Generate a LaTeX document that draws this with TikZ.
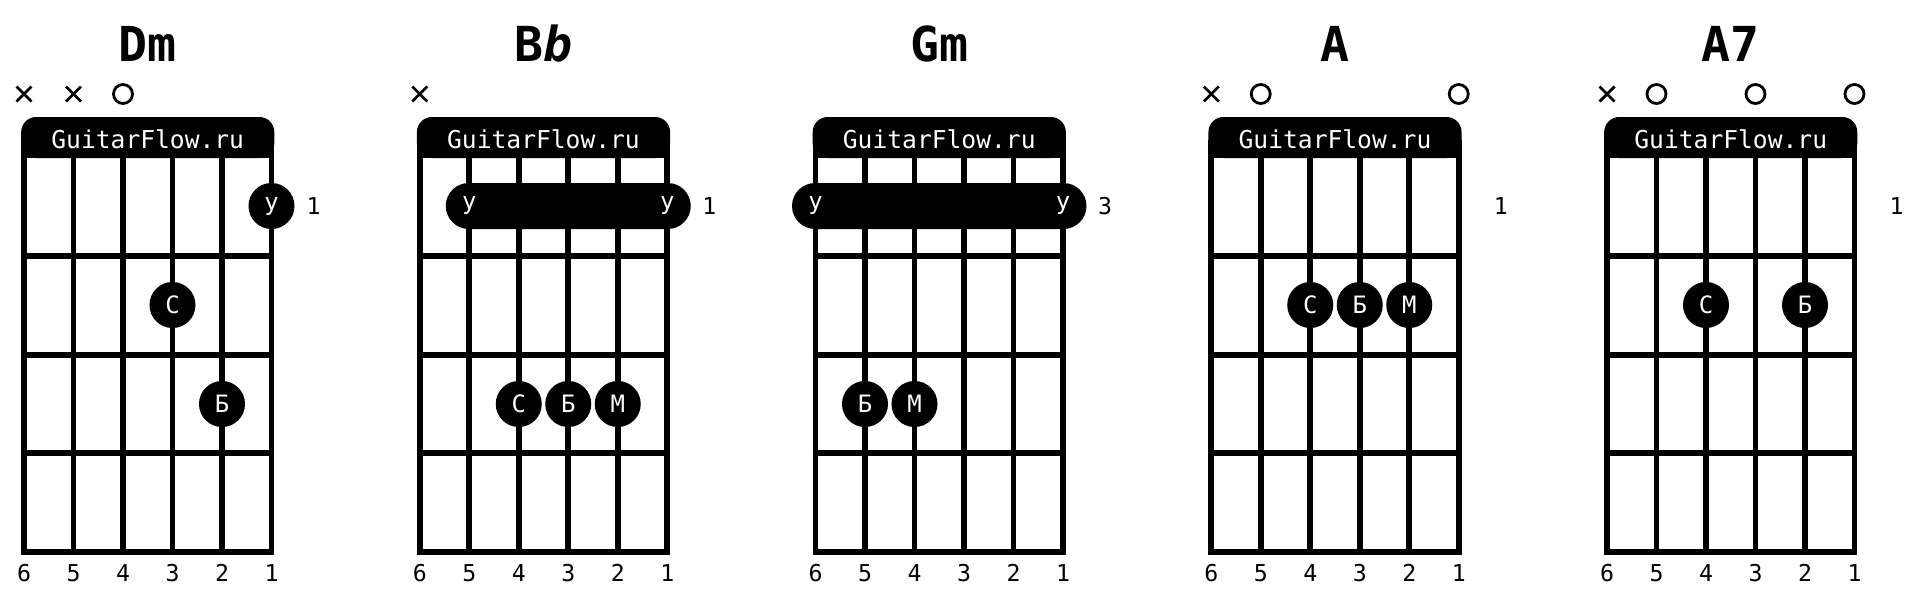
\documentclass[tikz,border=0pt]{standalone}
\usepackage{fontspec}
\setmonofont{DejaVu Sans Mono}
\usepackage{tikz}

\tikzset{
  gstring/.style={line width=1.6pt},
  gfret/.style={line width=1.75pt},
  finger/.style={circle,fill=black,text=white,minimum size=0.46cm,inner sep=0pt,
    font=\ttfamily\fontsize{6.8}{8}\selectfont},
  barre/.style={fill=black,rounded corners=0.23cm},
  barretext/.style={text=white,inner sep=0pt,font=\ttfamily\fontsize{6.8}{8}\selectfont},
  numlabel/.style={inner sep=0pt,font=\ttfamily\fontsize{6.6}{8}\selectfont},
  chordname/.style={inner sep=0pt,font=\ttfamily\bfseries\fontsize{13.7}{16}\selectfont},
  marker/.style={line width=0.8pt}
}

\begin{document}
\begin{tikzpicture}[x=0.01cm,y=-0.01cm]
  \useasboundingbox (0,0) rectangle (1920,603);

  \foreach \d/\name/\fr in {0/Dm/1,1/{B\textit{b}}/1,2/Gm/3,3/A/1,4/A7/1} {
    \begin{scope}[shift={(24+395.75*\d,0)}]
      \foreach \k in {0,...,5}
        \draw[gstring] (\k*49.5,158) -- (\k*49.5,552);
      \foreach \y in {256,355,453,552}
        \draw[gfret] (-2.8,\y) -- (250.3,\y);
      \fill[rounded corners=0.15cm] (-2.8,117) rectangle (250.3,158);
      \fill (-2.8,140) rectangle (250.3,158);
      \node[text=white,inner sep=0pt,font=\ttfamily\fontsize{7}{8}\selectfont]
        (h\d) at (123.75,139) {GuitarFlow.ru};
      \node[chordname] (t\d) at (123.75,44) {\name};
      \node[numlabel] (f\d) at (289.5,206) {\fr};
      \foreach \k in {0,...,5} {
        \pgfmathtruncatemacro{\s}{6-\k}
        \node[numlabel] (n\d\s) at (\k*49.5,573) {\s};
      }
    \end{scope}
  }

  \foreach \d/\s in {0/6,0/5,1/6,3/6,4/6} {
    \coordinate (x\d\s) at ({24+395.75*\d+49.5*(6-\s)},94);
    \draw[marker] ([shift={(-7.5,-7.5)}]x\d\s) -- ([shift={(7.5,7.5)}]x\d\s);
    \draw[marker] ([shift={(-7.5,7.5)}]x\d\s) -- ([shift={(7.5,-7.5)}]x\d\s);
  }
  \foreach \d/\s in {0/4,3/5,3/1,4/5,4/3,4/1} {
    \coordinate (o\d\s) at ({24+395.75*\d+49.5*(6-\s)},94);
    \draw[marker] (o\d\s) circle[radius=9.5];
  }

  \foreach \d/\a/\b in {1/5/1,2/6/1} {
    \fill[barre] ({24+395.75*\d+49.5*(6-\a)-23.5},183) rectangle ({24+395.75*\d+49.5*(6-\b)+23.5},229);
    \node[barretext] (ba\d) at ({24+395.75*\d+49.5*(6-\a)},205) {у};
    \node[barretext] (bb\d) at ({24+395.75*\d+49.5*(6-\b)},205) {у};
  }

  \foreach \d/\s/\f/\t in {0/1/206/у,0/3/305/С,0/2/404/Б,
      1/4/404/С,1/3/404/Б,1/2/404/М,2/5/404/Б,2/4/404/М,
      3/4/305/С,3/3/305/Б,3/2/305/М,4/4/305/С,4/2/305/Б}
    \node[finger] (p\d\s) at ({24+395.75*\d+49.5*(6-\s)},\f) {\t};
\end{tikzpicture}
\end{document}
